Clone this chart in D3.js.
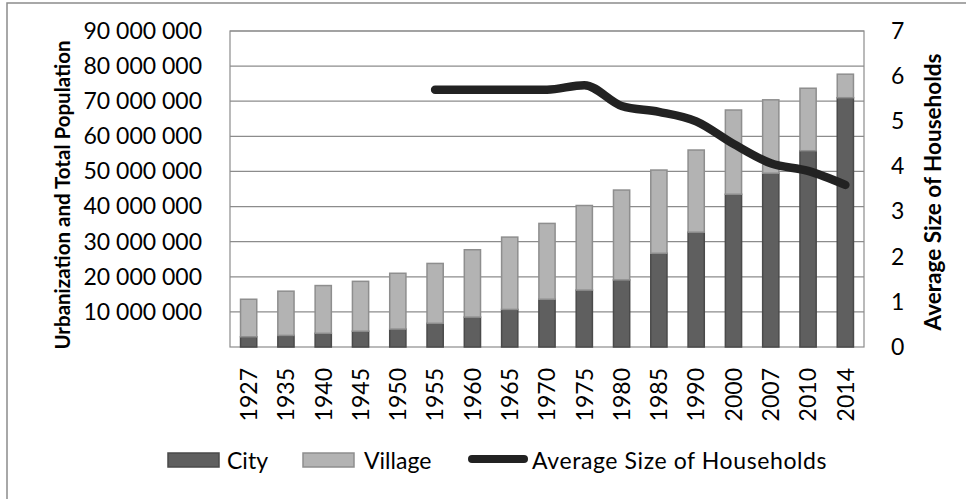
<!DOCTYPE html>
<html>
<head>
<meta charset="utf-8">
<script src="https://cdn.jsdelivr.net/npm/d3@7/dist/d3.min.js"></script>
<style>
  html, body { margin: 0; padding: 0; background: #fff; }
  svg { display: block; font-family: Lato, "Open Sans", sans-serif; }
</style>
</head>
<body>
<div id="chart"></div>
<script>
// categories
const years = ['1927', '1935', '1940', '1945', '1950', '1955', '1960', '1965', '1970',
  '1975', '1980', '1985', '1990', '2000', '2007', '2010', '2014'];

// population, millions
const city = [2.9, 3.3, 3.9, 4.5, 5.1, 6.75, 8.5, 10.7, 13.6, 16.2, 19.1, 26.7, 32.7, 43.5, 49.5, 55.9, 71.0];
const village = [10.7, 12.6, 13.6, 14.2, 15.9, 17.05, 19.2, 20.6, 21.6, 24.1, 25.6, 23.7, 23.4, 24.0, 20.9, 17.8, 6.7];

// average size of households (no data before 1955)
const household = [null, null, null, null, null, 5.7, 5.7, 5.7, 5.7, 5.8, 5.34, 5.21, 5.0, 4.5, 4.07, 3.9, 3.59];

const leftTicks = [10e6, 20e6, 30e6, 40e6, 50e6, 60e6, 70e6, 80e6, 90e6];
const rightTicks = [0, 1, 2, 3, 4, 5, 6, 7];

const width = 966;
const height = 499;
const plot = { left: 230, top: 31, right: 864, bottom: 347 };

const svg = d3.select('#chart')
  .append('svg')
  .attr('width', width)
  .attr('height', height);

// outer chart frame
svg.append('rect')
  .attr('x', 7).attr('y', 3)
  .attr('width', 1000).attr('height', 1000)
  .attr('fill', 'none')
  .attr('stroke', '#8c8c8c')
  .attr('stroke-width', 1.5);

const x = d3.scaleBand()
  .domain(years)
  .range([plot.left, plot.right])
  .paddingInner(1.3 / 2.3)
  .paddingOuter(1.3 / 2.3 / 2);

const y = d3.scaleLinear()
  .domain([0, 90e6])
  .range([plot.bottom, plot.top]);

const y2 = d3.scaleLinear()
  .domain([0, 7])
  .range([plot.bottom, plot.top]);

const fmt = d3.formatLocale({ decimal: '.', thousands: '\u2009', grouping: [3], currency: ['', ''] })
  .format(',');
const fmtSpace = v => fmt(v).replace(/\u2009/g, ' ');

// gridlines
svg.append('g')
  .selectAll('line')
  .data(leftTicks)
  .join('line')
  .attr('x1', plot.left).attr('x2', plot.right)
  .attr('y1', d => y(d)).attr('y2', d => y(d))
  .attr('stroke', '#8c8c8c')
  .attr('stroke-width', 1.2);

// plot border
svg.append('rect')
  .attr('x', plot.left).attr('y', plot.top)
  .attr('width', plot.right - plot.left)
  .attr('height', plot.bottom - plot.top)
  .attr('fill', 'none')
  .attr('stroke', '#8c8c8c')
  .attr('stroke-width', 1.2);

// left axis labels
const leftAxis = svg.append('g')
  .attr('transform', `translate(${plot.left - 28},0)`)
  .call(d3.axisLeft(y).tickValues(leftTicks).tickSize(0).tickPadding(0).tickFormat(fmtSpace));
leftAxis.select('.domain').remove();
leftAxis.selectAll('text')
  .attr('font-size', 23)
  .attr('fill', '#000')
  .style('font-family', 'Lato, sans-serif');

// right axis labels
const rightAxis = svg.append('g')
  .attr('transform', `translate(${plot.right + 27},0)`)
  .call(d3.axisRight(y2).tickValues(rightTicks).tickSize(0).tickPadding(0).tickFormat(d3.format('d')));
rightAxis.select('.domain').remove();
rightAxis.selectAll('text')
  .attr('font-size', 23)
  .attr('fill', '#000')
  .style('font-family', 'Lato, sans-serif');

// x labels, rotated
svg.append('g')
  .selectAll('text')
  .data(years)
  .join('text')
  .attr('transform', d => `translate(${x(d) + x.bandwidth() / 2},368) rotate(-90)`)
  .attr('text-anchor', 'end')
  .attr('dy', '0.36em')
  .attr('font-size', 23)
  .attr('fill', '#000')
  .text(d => d);

// stacked bars
const rows = years.map((yr, i) => ({ year: yr, city: city[i], village: village[i] }));
const stack = d3.stack().keys(['city', 'village'])(rows);
const fills = { city: '#5f5f5f', village: '#b3b3b3' };
const strokes = { city: '#4a4a4a', village: '#8e8e8e' };

svg.append('g')
  .selectAll('g')
  .data(stack)
  .join('g')
  .attr('fill', d => fills[d.key])
  .attr('stroke', d => strokes[d.key])
  .attr('stroke-width', 1.5)
  .selectAll('rect')
  .data(d => d)
  .join('rect')
  .attr('x', d => x(d.data.year))
  .attr('width', x.bandwidth())
  .attr('y', d => y(d[1] * 1e6))
  .attr('height', d => y(d[0] * 1e6) - y(d[1] * 1e6));

// household line
const line = d3.line()
  .defined(d => d != null)
  .x((d, i) => x(years[i]) + x.bandwidth() / 2)
  .y(d => y2(d))
  .curve(d3.curveMonotoneX);

svg.append('path')
  .datum(household)
  .attr('fill', 'none')
  .attr('stroke', '#222')
  .attr('stroke-width', 8.5)
  .attr('stroke-linecap', 'round')
  .attr('stroke-linejoin', 'round')
  .attr('d', line);

// axis titles
svg.append('text')
  .attr('transform', `translate(70,195) rotate(-90)`)
  .attr('text-anchor', 'middle')
  .attr('font-size', 20.5)
  .attr('font-weight', 'bold')
  .attr('fill', '#000')
  .text('Urbanization and Total Population');

svg.append('text')
  .attr('transform', `translate(941,192) rotate(-90)`)
  .attr('text-anchor', 'middle')
  .attr('font-size', 22.5)
  .attr('font-weight', 'bold')
  .attr('fill', '#000')
  .text('Average Size of Households');

// legend
const legend = svg.append('g').attr('font-size', 23);
legend.append('rect')
  .attr('x', 168).attr('y', 453).attr('width', 51).attr('height', 14)
  .attr('fill', fills.city).attr('stroke', strokes.city).attr('stroke-width', 1.5);
legend.append('text')
  .attr('x', 227).attr('y', 469).text('City');
legend.append('rect')
  .attr('x', 303).attr('y', 453).attr('width', 51).attr('height', 14)
  .attr('fill', fills.village).attr('stroke', strokes.village).attr('stroke-width', 1.5);
legend.append('text')
  .attr('x', 364).attr('y', 469).text('Village');
legend.append('line')
  .attr('x1', 472).attr('x2', 524).attr('y1', 459).attr('y2', 459)
  .attr('stroke', '#222').attr('stroke-width', 8).attr('stroke-linecap', 'round');
legend.append('text')
  .attr('x', 532).attr('y', 469).attr('letter-spacing', 0.6).text('Average Size of Households');
</script>
</body>
</html>
